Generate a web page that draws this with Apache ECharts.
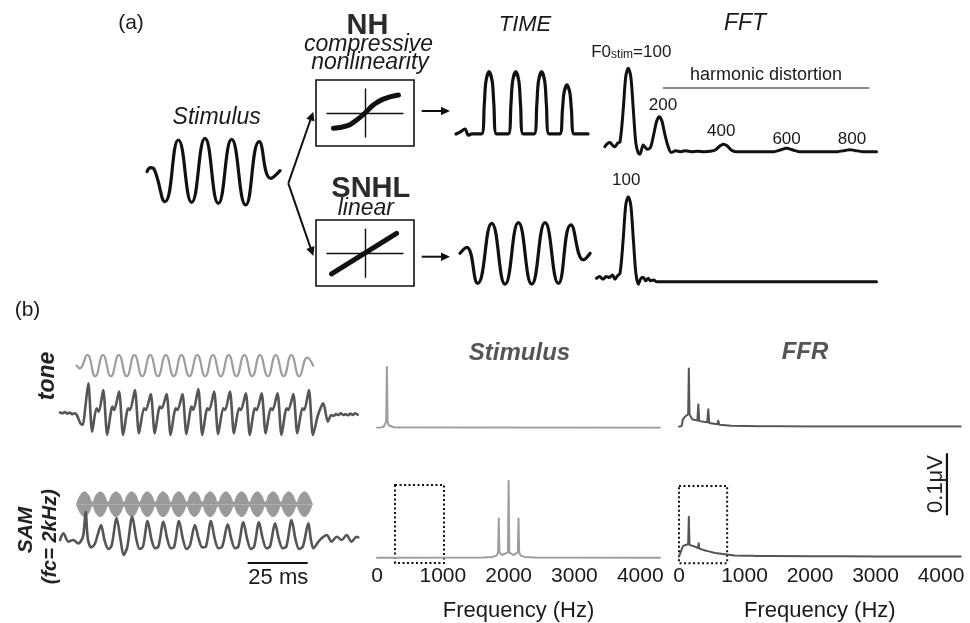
<!DOCTYPE html>
<html><head><meta charset="utf-8">
<script src="https://cdn.jsdelivr.net/npm/echarts@6/dist/echarts.min.js"></script>
<style>html,body{margin:0;padding:0;background:#fff}#c{width:970px;height:623px}</style>
</head><body><div id="c"></div>
<script>
// ---------------- DATA ----------------
// (a) stimulus waveform: [time ms, amplitude]
const stimA = [[0,0],[1.4,0.12],[2.8,0.05],[6.75,-0.9],[11.75,0.95],[16.75,-0.92],[21.75,1.0],[26.75,-0.95],[31.75,0.97],[37.0,-1.0],[42.1,0.9],[46.4,-0.2],[49.9,0.03]];
// (a) transfer functions: [input, output]
const nhCurve = [[-0.83,-0.64],[-0.48,-0.54],[-0.22,-0.29],[0,0],[0.22,0.33],[0.48,0.58],[0.88,0.75]];
const snhlCurve = [[-0.88,-0.86],[0.83,0.83]];
// (a) TIME outputs
const nhTime = [[0,0],[1.5,0.03],[3.4,0.08],[4.6,-0.02],[6,0],[9.6,0],[10.6,0.47],[11.2,0.84],[12.4,1.0],[13.6,0.84],[14.2,0.47],[15.2,0],[19.6,0],[20.6,0.47],[21.2,0.84],[22.4,1.0],[23.6,0.84],[24.2,0.47],[25.2,0],[29.3,0],[30.3,0.47],[30.9,0.84],[32.1,1.0],[33.3,0.84],[33.9,0.47],[34.9,0],[38.9,0],[39.9,0.38],[40.5,0.66],[41.6,0.79],[42.7,0.66],[43.3,0.38],[44.3,0],[49.5,0]];
const snhlTime = [[1.5,0],[4.0,0.2],[8.1,-1.0],[13.4,1.0],[18.4,-1.03],[23.4,1.02],[28.4,-1.03],[33.4,1.02],[38.4,-1.0],[43.1,0.95],[47.8,-0.22],[50.3,0.0]];
// (a) FFT outputs: [frequency Hz, normalised amplitude]
const nhFFT = [[26,0.06],[35,0.1],[42,0.11],[52,0.07],[58,0.06],[66,0.1],[74,0.12],[84,0.5],[92,0.9],[100,1.0],[108,0.9],[116,0.5],[124,0.1],[132,-0.02],[137,-0.03],[147,0.08],[152,0.06],[160,0.03],[170,0.05],[180,0.2],[190,0.37],[198,0.42],[206,0.37],[216,0.2],[226,0.06],[236,-0.01],[250,0.01],[265,0.0],[280,0.01],[300,0.0],[320,0.005],[340,0.0],[360,0.005],[375,0.02],[390,0.07],[400,0.09],[412,0.07],[425,0.02],[440,0.0],[500,0.0],[560,0.0],[580,0.02],[600,0.04],[620,0.02],[640,0.0],[760,0.0],[785,0.015],[800,0.024],[815,0.015],[840,0.0],[884,0.0]];
const snhlFFT = [[0,0.04],[10,0.06],[20,0.03],[30,0.06],[40,0.05],[50,0.08],[58,0.03],[66,0.07],[74,0.1],[84,0.5],[92,0.9],[100,1.0],[108,0.9],[116,0.5],[124,0.1],[132,-0.03],[140,0.04],[148,0.05],[155,0.01],[163,0.04],[170,0.01],[180,0.02],[190,0.0],[884,0.0]];
const nhHarmFreq = [100,200,400,600,800];
const nhHarmAmp = [1.0,0.42,0.092,0.04,0.024];
const nhHarmText = ['{n|F0}{s|stim}{n|=100}','200','400','600','800'];
const harmonicBand = [209,861];
const snhlPeak = [100,1.0];
// (b) time traces: [time ms, amplitude]
const toneStim = [[6.9,0.0],[8.2,-0.25],[11.4,1],[14.7,-1],[17.9,1],[21.2,-1],[24.5,1],[27.8,-1],[31.0,1],[34.3,-1],[37.6,1],[40.8,-1],[44.1,1],[47.4,-1],[50.6,1],[53.9,-1],[57.2,1],[60.5,-1],[63.7,1],[67.0,-1],[70.3,1],[73.5,-1],[76.8,1],[80.1,-1],[83.3,1],[86.6,-1],[89.9,1],[93.2,-1],[96.4,1],[99.7,-1],[103.0,0.75],[105.5,0.0]];
const toneFFR = [[0,0.05],[1,0.0],[2,0.08],[3,-0.02],[4,0.05],[5,-0.05],[6,0.0],[7,-0.1],[8.5,-0.6],[9.5,-0.7],[10.5,0.3],[11.8,1.8],[13.4,-1.1],[15.2,0.3],[16.2,0.1],[18.0,1.4],[19.7,-1.3],[21.8,0.4],[22.6,0.2],[24.6,1.3],[26.3,-1.3],[28.4,0.3],[29.2,0.2],[31.2,1.4],[32.9,-1.2],[35.0,0.3],[35.8,0.2],[37.8,1.15],[39.5,-1.2],[41.6,0.4],[42.4,0.3],[44.4,1.15],[46.1,-1.3],[48.2,0.3],[49.0,0.2],[51.0,1.15],[52.7,-1.25],[54.8,0.4],[55.6,0.2],[57.6,1.45],[59.3,-1.3],[61.4,0.3],[62.2,0.2],[64.2,1.3],[65.9,-1.25],[68.0,0.3],[68.8,0.2],[70.8,1.3],[72.5,-1.2],[74.6,0.3],[75.4,0.2],[77.4,1.2],[79.1,-1.3],[81.2,0.3],[82.0,0.2],[84.0,1.2],[85.7,-1.2],[87.8,0.3],[88.6,0.2],[90.6,1.2],[92.3,-1.3],[94.4,0.3],[95.2,0.2],[97.2,1.15],[98.9,-1.2],[101.0,0.3],[101.8,0.2],[103.7,1.4],[105.4,-1.3],[107.5,-0.1],[109.7,0.6],[111.6,-0.5],[113,-0.1],[114,-0.15],[115,-0.05],[116,-0.1],[117,0.0],[118,-0.1],[119,-0.05],[120,-0.12],[121,-0.02],[122,-0.1],[123,0.0],[124,-0.08]];
const samEnvelope = [[6.9,0.02],[8.5,0.72],[10.2,1],[11.8,0.75],[13.5,0.15],[15.1,0.75],[16.8,1],[18.4,0.75],[20.0,0.15],[21.7,0.75],[23.3,1],[25.0,0.75],[26.6,0.15],[28.2,0.75],[29.9,1],[31.5,0.75],[33.1,0.15],[34.8,0.75],[36.4,1],[38.0,0.75],[39.7,0.15],[41.3,0.75],[42.9,1],[44.6,0.75],[46.2,0.15],[47.8,0.75],[49.5,1],[51.1,0.75],[52.8,0.15],[54.4,0.75],[56.0,1],[57.6,0.75],[59.3,0.15],[60.9,0.75],[62.6,1],[64.2,0.75],[65.8,0.15],[67.5,0.75],[69.1,1],[70.7,0.75],[72.4,0.15],[74.0,0.75],[75.7,1],[77.3,0.75],[78.9,0.15],[80.6,0.75],[82.2,1],[83.8,0.75],[85.5,0.15],[87.1,0.75],[88.8,1],[90.4,0.75],[92.0,0.15],[93.7,0.75],[95.3,1],[96.9,0.75],[98.6,0.15],[100.2,0.75],[101.9,1],[103.5,0.72],[105.1,0.02]];
const samFFR = [[0,-0.06],[1.4,0.34],[3.5,-0.16],[5.5,-0.06],[7.6,-0.26],[9.0,-0.06],[9.8,0.3],[10.7,1.64],[11.6,0.0],[13.0,-0.5],[14.5,-0.3],[15.6,0.2],[17.1,0.84],[18.6,-0.1],[20.2,-0.6],[21.5,-0.4],[23.6,1.24],[25.2,0.0],[26.5,-0.96],[28.0,-0.5],[30.1,1.34],[31.8,0.0],[33.2,-0.6],[34.6,-0.45],[36.5,1.08],[38.1,0.0],[39.6,-0.55],[41.0,-0.45],[43.1,1.04],[44.7,0.0],[46.2,-0.55],[47.6,-0.45],[49.6,1.08],[51.2,0.0],[52.7,-0.6],[54.1,-0.4],[56.2,0.84],[57.8,0.0],[59.3,-0.5],[60.8,-0.45],[62.9,1.08],[64.5,0.0],[66.0,-0.55],[67.6,-0.45],[69.9,0.88],[71.4,0.0],[72.9,-0.55],[74.3,-0.45],[76.4,1.0],[78.0,0.0],[79.5,-0.6],[80.9,-0.45],[82.9,1.0],[84.5,0.0],[86.0,-0.55],[87.5,-0.45],[89.6,0.94],[91.2,0.0],[92.7,-0.55],[94.3,-0.45],[96.5,1.14],[98.1,0.0],[99.6,-0.6],[101.2,-0.45],[103.5,0.94],[104.5,0.0],[105.6,-0.56],[107.5,-0.2],[109,0.04],[111.1,0.24],[113.2,-0.16],[115.3,0.14],[117.4,-0.06],[119.4,0.24],[121.5,-0.16],[123.6,0.14],[124.3,0.1]];
const scaleBarStartMs = 78.2, scaleBarMs = 25;
// (b) spectra: [frequency Hz, amplitude]
const toneStimSpec = [[0,0],[60,0.005],[100,0.015],[125,0.04],[140,0.1],[150,1.0],[160,0.1],[175,0.04],[200,0.015],[260,0.005],[400,0.002],[4300,0.0]];
const samStimSpec = [[0,0],[1600,0.002],[1760,0.01],[1820,0.03],[1840,0.07],[1850,0.51],[1860,0.07],[1900,0.035],[1930,0.035],[1990,0.07],[2000,1.0],[2010,0.07],[2070,0.035],[2100,0.035],[2140,0.07],[2150,0.51],[2160,0.07],[2180,0.03],[2240,0.01],[2400,0.002],[4300,0]];
const toneFFRSpec = [[0,0],[40,0.001],[60,0.012],[90,0.016],[120,0.017],[140,0.02],[150,0.094],[160,0.02],[200,0.012],[280,0.01],[295,0.036],[310,0.009],[430,0.007],[447,0.028],[462,0.006],[585,0.004],[600,0.0097],[615,0.003],[800,0.0015],[1000,0.001],[1200,0.0008],[1500,0.0006],[2000,0.0005],[2500,0.0004],[3000,0.0003],[4300,0.0003]];
const samFFRSpec = [[0,0],[30,0.003],[60,0.017],[100,0.019],[140,0.02],[150,0.0645],[160,0.019],[250,0.016],[290,0.014],[300,0.0216],[310,0.013],[400,0.01],[440,0.009],[450,0.011],[460,0.008],[550,0.006],[700,0.004],[850,0.002],[1000,0.0015],[1130,0.0015],[1150,0.002],[1170,0.0013],[1400,0.001],[2000,0.0008],[2500,0.0006],[3000,0.0005],[4300,0.0004]];
const freqTicks = [0,1000,2000,3000,4000];
const stimZoomBox = [274,1018], ffrZoomBox = [0,735];
const scaleBarUV = 0.1, scaleBarUVStart = 0.067, scaleBarUVFreq = 4090;

// ---------------- CHART ----------------
const FONT = "'Liberation Sans', Arial, sans-serif";
const grids=[], xAxes=[], yAxes=[], series=[];
function addGrid(g, xr, yr, xOpt, yOpt){
  const i = grids.length;
  grids.push(Object.assign({containLabel:false, outerBoundsMode:'none'}, g));
  xAxes.push(Object.assign({gridIndex:i, type:'value', min:xr[0], max:xr[1], show:false}, xOpt||{}));
  yAxes.push(Object.assign({gridIndex:i, type:'value', min:yr[0], max:yr[1], show:false}, yOpt||{}));
  return i;
}
function line(i, data, color, width, extra){
  const s = Object.assign({type:'line', xAxisIndex:i, yAxisIndex:i, data:data, symbol:'none', showSymbol:false, silent:true, animation:false,
    lineStyle:{color:color, width:width, cap:'round', join:'round'}}, extra||{});
  series.push(s); return s;
}
const BLK='#111', LG='#9d9d9d', DG='#555';
const crossAxis = {show:true, axisLine:{show:true,onZero:true,lineStyle:{color:BLK,width:1.4}}, axisTick:{show:false}, axisLabel:{show:false}, splitLine:{show:false}};
const boxStyle = {show:true, borderColor:BLK, borderWidth:1.6, backgroundColor:'rgba(0,0,0,0)'};

// (a)
let g;
g = addGrid({left:147,top:135,width:133.3,height:73.3},[0,50],[-1.1,1.1]);
line(g, stimA, BLK, 3.2, {smooth:0.5});
addGrid(Object.assign({left:316,top:80,width:98,height:66},boxStyle),[0,1],[0,1]);
g = addGrid({left:327,top:89,width:76,height:48},[-1,1],[-1,1],crossAxis,crossAxis);
line(g, nhCurve, BLK, 5, {smooth:0.5});
addGrid(Object.assign({left:316,top:220,width:98,height:66},boxStyle),[0,1],[0,1]);
g = addGrid({left:327,top:229.3,width:76,height:48},[-1,1],[-1,1],crossAxis,crossAxis);
line(g, snhlCurve, BLK, 5);
g = addGrid({left:456,top:71.7,width:132,height:68.5},[0,49.5],[-0.1,1]);
line(g, nhTime, BLK, 3.2, {smooth:0.3});
g = addGrid({left:456,top:220.3,width:136,height:66},[0,51],[-1.1,1.1]);
line(g, snhlTime, BLK, 3.2, {smooth:0.5});
const labOff = [[3,-16],[3,-11],[-2,-13],[0,-9],[2,-10]];
g = addGrid({left:596.6,top:68.3,width:285,height:91.7},[0,900],[-0.1,1]);
line(g, nhFFT, BLK, 3, {smooth:0.3,
  markPoint:{silent:true, symbol:'circle', symbolSize:1, itemStyle:{color:'rgba(0,0,0,0)'},
    data: nhHarmFreq.map((f,k)=>({coord:[f,nhHarmAmp[k]], label:{show:true, position:'inside', offset:labOff[k], formatter:nhHarmText[k],
      color:'#1a1a1a', fontSize:17, fontFamily:FONT, rich:{n:{fontSize:17,fontFamily:FONT,color:'#1a1a1a'}, s:{fontSize:12,fontFamily:FONT,color:'#1a1a1a',padding:[5,0,0,0]}}}}))},
  markLine:{silent:true, symbol:['none','none'], lineStyle:{color:'#8c8c8c',width:2,type:'solid'},
    label:{show:true, position:'insideMiddleTop', formatter:'harmonic distortion', color:'#1a1a1a', fontSize:18, fontFamily:FONT, distance:4},
    data:[[{coord:[harmonicBand[0],0.767]},{coord:[harmonicBand[1],0.767]}]]}
});
g = addGrid({left:596.6,top:196.7,width:285,height:93.5},[0,900],[-0.1,1]);
line(g, snhlFFT, BLK, 3, {smooth:0.3,
  markPoint:{silent:true, symbol:'circle', symbolSize:1, itemStyle:{color:'rgba(0,0,0,0)'},
    data:[{coord:snhlPeak, label:{show:true, position:'inside', offset:[-2,-16], formatter:'100', color:'#1a1a1a', fontSize:17, fontFamily:FONT}}]}
});

// (b) time traces
g = addGrid({left:60,top:355,width:300,height:21.4},[0,125],[-1,1]);
line(g, toneStim, LG, 2.2, {smooth:0.5});
g = addGrid({left:60,top:380,width:300,height:58.3},[0,125],[-1.5,2]);
line(g, toneFFR, DG, 2.6, {smooth:0.25});
g = addGrid({left:60,top:491.7,width:300,height:25},[0,125],[-1,1]);
line(g, samEnvelope, '#9a9a9a', 1, {smooth:0.4, areaStyle:{color:'#9a9a9a',opacity:1}});
line(g, samEnvelope.map(p=>[p[0],-p[1]]), '#9a9a9a', 1, {smooth:0.4, areaStyle:{color:'#9a9a9a',opacity:1}});
g = addGrid({left:60,top:505.7,width:300,height:58.3},[0,125],[-1.5,2]);
line(g, samFFR, DG, 2.6, {smooth:0.3});
g = addGrid({left:60,top:553,width:300,height:20},[0,125],[0,1]);
line(g, [[scaleBarStartMs,0.5],[scaleBarStartMs+scaleBarMs,0.5]], BLK, 2.2, {lineStyle:{color:BLK,width:2.2,cap:'butt'}});

// (b) spectra
const freqAxis = {show:true, interval:1000, axisLine:{show:false}, axisTick:{show:false}, splitLine:{show:false},
  axisLabel:{show:true, fontSize:21, color:'#1a1a1a', fontFamily:FONT, margin:2, showMaxLabel:false,
    formatter:v=> freqTicks.indexOf(v)>=0 ? String(v) : ''},
  name:'Frequency (Hz)', nameLocation:'middle', nameGap:36, nameTextStyle:{fontSize:22, color:'#1a1a1a', fontFamily:FONT}};
g = addGrid({left:377,top:366.7,width:283,height:61},[0,4300],[0,1]);
line(g, toneStimSpec, LG, 2);
g = addGrid({left:377,top:481,width:283,height:82.84},[0,4300],[-0.08,1],freqAxis);
line(g, samStimSpec, LG, 2, {clip:false,
  markArea:{silent:true, itemStyle:{color:'rgba(0,0,0,0)', borderColor:BLK, borderWidth:2, borderType:[2,2.5]},
    data:[[{coord:[stimZoomBox[0],0.948]},{coord:[stimZoomBox[1],-0.069]}]]}});
g = addGrid({left:679,top:364.7,width:281.7,height:62},[0,4300],[0,0.1]);
line(g, toneFFRSpec, DG, 2);
g = addGrid({left:679,top:445.1,width:281.7,height:119.04},[0,4300],[-0.012,0.18],freqAxis);
line(g, samFFRSpec, DG, 2, {clip:false,
  markArea:{silent:true, itemStyle:{color:'rgba(0,0,0,0)', borderColor:BLK, borderWidth:2, borderType:[2,2.5]},
    data:[[{coord:[ffrZoomBox[0],0.114]},{coord:[ffrZoomBox[1],-0.0106]}]]}});
line(g, [[scaleBarUVFreq,scaleBarUVStart],[scaleBarUVFreq,scaleBarUVStart+scaleBarUV]], BLK, 2.2, {lineStyle:{color:BLK,width:2.2,cap:'butt'}});

// annotations
function txt(x,y,text,font,fill,rot){
  return {type:'text', x:x, y:y, rotation:rot||0, silent:true, z:10,
    style:{text:text, font:font, fill:fill||'#1a1a1a', textAlign:'center', textVerticalAlign:'middle', verticalAlign:'middle'}};
}
function arrow(x1,y1,x2,y2){
  const a=Math.atan2(y2-y1,x2-x1), L=9, W=4.3;
  const bx=x2-L*Math.cos(a), by=y2-L*Math.sin(a);
  return [
    {type:'line', silent:true, shape:{x1:x1,y1:y1,x2:bx+1*Math.cos(a),y2:by+1*Math.sin(a)}, style:{stroke:BLK,lineWidth:2}},
    {type:'polygon', silent:true, shape:{points:[[x2,y2],[bx+W*Math.sin(a),by-W*Math.cos(a)],[bx-W*Math.sin(a),by+W*Math.cos(a)]]}, style:{fill:BLK}}
  ];
}
const graphic = [
  txt(131,23,'(a)','21px '+FONT),
  txt(367.5,26,'NH','bold 29px '+FONT,'#2b2b2b'),
  txt(368.5,45,'compressive','italic 23px '+FONT),
  txt(370,62.5,'nonlinearity','italic 23px '+FONT),
  txt(216.7,117.5,'Stimulus','italic 23px '+FONT),
  txt(525,25,'TIME','italic 22px '+FONT),
  txt(745,24,'FFT','italic 23px '+FONT),
  txt(370.8,189,'SNHL','bold 29px '+FONT,'#2b2b2b'),
  txt(365.8,208.3,'linear','italic 23px '+FONT),
  txt(27.5,310.5,'(b)','21px '+FONT),
  txt(47.5,376,'tone','bold italic 23px '+FONT,'#222',Math.PI/2),
  txt(26,530,'SAM','bold italic 21px '+FONT,'#222',Math.PI/2),
  txt(50,536.7,'(fc= 2kHz)','bold italic 20px '+FONT,'#222',Math.PI/2),
  txt(519.5,353.3,'Stimulus','bold italic 24px '+FONT,'#555'),
  txt(805,352.5,'FFR','bold italic 24px '+FONT,'#555'),
  txt(278.3,578.3,'25 ms','22px '+FONT),
  txt(936,484,'0.1μV','22px '+FONT,'#222',Math.PI/2)
].concat(arrow(421.7,111,450,111), arrow(421.7,256.7,450,256.7),
         arrow(288.3,183.3,313.3,111.7), arrow(288.3,183.3,313.3,256));

const chart = echarts.init(document.getElementById('c'), null, {renderer:'canvas'});
chart.setOption({
  animation:false, backgroundColor:'#fff',
  textStyle:{fontFamily:FONT},
  grid:grids, xAxis:xAxes, yAxis:yAxes, series:series, graphic:graphic
});
</script></body></html>
